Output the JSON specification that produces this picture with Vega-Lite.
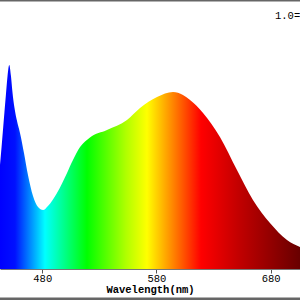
{
  "$schema": "https://vega.github.io/schema/vega-lite/v6.json",
  "width": 300,
  "height": 269,
  "autosize": {"type": "none"},
  "padding": {"left": 0, "top": 0, "right": 0, "bottom": 31},
  "background": "white",
  "config": {"view": {"stroke": null}},
  "datasets": {
    "spd": [
      {"nm": 443.0, "v": 0.510},
      {"nm": 444.3, "v": 0.593},
      {"nm": 445.6, "v": 0.681},
      {"nm": 446.9, "v": 0.770},
      {"nm": 448.3, "v": 0.863},
      {"nm": 449.6, "v": 0.946},
      {"nm": 451.1, "v": 1.0},
      {"nm": 452.6, "v": 0.946},
      {"nm": 453.9, "v": 0.868},
      {"nm": 455.7, "v": 0.789},
      {"nm": 457.9, "v": 0.725},
      {"nm": 460.5, "v": 0.667},
      {"nm": 464.0, "v": 0.569},
      {"nm": 467.5, "v": 0.461},
      {"nm": 471.9, "v": 0.358},
      {"nm": 476.3, "v": 0.304},
      {"nm": 480.7, "v": 0.289},
      {"nm": 485.0, "v": 0.309},
      {"nm": 492.9, "v": 0.373},
      {"nm": 501.7, "v": 0.471},
      {"nm": 506.9, "v": 0.534},
      {"nm": 513.1, "v": 0.598},
      {"nm": 521.8, "v": 0.645},
      {"nm": 536.7, "v": 0.681},
      {"nm": 554.2, "v": 0.730},
      {"nm": 565.6, "v": 0.789},
      {"nm": 580.5, "v": 0.843},
      {"nm": 594.5, "v": 0.868},
      {"nm": 603.2, "v": 0.853},
      {"nm": 609.4, "v": 0.828},
      {"nm": 620.8, "v": 0.765},
      {"nm": 635.6, "v": 0.647},
      {"nm": 650.5, "v": 0.485},
      {"nm": 664.5, "v": 0.338},
      {"nm": 679.4, "v": 0.225},
      {"nm": 694.3, "v": 0.142},
      {"nm": 705.7, "v": 0.108}
    ],
    "label": [{"nm": 683.8, "v": 1.24, "t": "1.0="}],
    "frame": [{"v": 1.3186}, {"v": -0.147}]
  },
  "layer": [
    {
      "data": {"name": "spd"},
      "mark": {
        "type": "area",
        "interpolate": "monotone",
        "color": {
          "gradient": "linear",
          "x1": 0, "x2": 1, "y1": 0, "y2": 0,
          "stops": [
            {"offset": 0.0, "color": "#0000ff"},
            {"offset": 0.05, "color": "#0010ff"},
            {"offset": 0.15, "color": "#00ffff"},
            {"offset": 0.29, "color": "#00ff00"},
            {"offset": 0.42, "color": "#b0ff00"},
            {"offset": 0.49, "color": "#ffff00"},
            {"offset": 0.58, "color": "#ff8000"},
            {"offset": 0.67, "color": "#ff0000"},
            {"offset": 0.8, "color": "#c00000"},
            {"offset": 1.0, "color": "#680000"}
          ]
        }
      },
      "encoding": {
        "x": {
          "field": "nm", "type": "quantitative",
          "scale": {"domain": [443.0, 705.7], "nice": false, "zero": false},
          "axis": {
            "values": [480, 580, 680],
            "grid": false,
            "title": "Wavelength(nm)",
            "domainColor": "#777777",
            "domainWidth": 1,
            "tickColor": "#555555",
            "tickSize": 4,
            "labelFont": "Liberation Mono",
            "labelFontSize": 10.5,
            "labelColor": "#000000",
            "labelPadding": 0,
            "titleFont": "Liberation Mono",
            "titleFontSize": 10.5,
            "titleFontWeight": "bold",
            "titleColor": "#000000",
            "titlePadding": 1
          }
        },
        "y": {
          "field": "v", "type": "quantitative",
          "scale": {"domain": [0, 1.3186], "nice": false, "zero": false},
          "axis": null
        }
      }
    },
    {
      "data": {"name": "label"},
      "mark": {"type": "text", "align": "left", "baseline": "middle", "font": "Liberation Mono", "fontSize": 10.5, "color": "#000000"},
      "encoding": {
        "x": {"field": "nm", "type": "quantitative"},
        "y": {"field": "v", "type": "quantitative"},
        "text": {"field": "t"}
      }
    },
    {
      "data": {"name": "frame"},
      "mark": {"type": "rule", "color": "#666666", "strokeWidth": 3, "clip": false},
      "encoding": {
        "y": {"field": "v", "type": "quantitative"}
      }
    }
  ]
}
